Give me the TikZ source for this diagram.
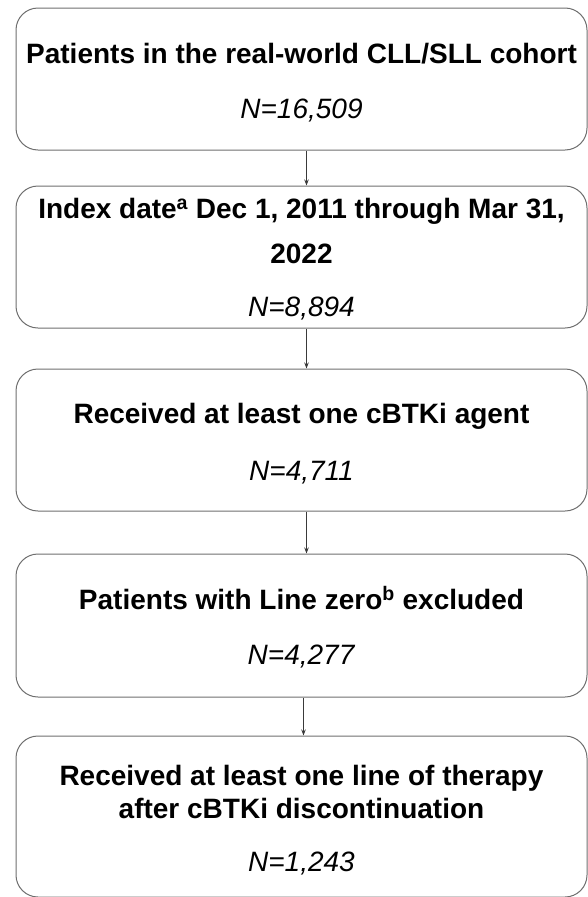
\documentclass[tikz,border=0pt]{standalone}
\usepackage{fontspec}
\setmainfont{Liberation Sans}
\usetikzlibrary{arrows.meta}
\tikzset{
  flowbox/.style={draw=boxgray, line width=1pt, rounded corners=22pt,
    minimum width=571pt, align=center, inner sep=0pt,
    font=\fontsize{28}{33}\selectfont},
  flowarrow/.style={draw=arrowgray, line width=0.9pt,
    -{Stealth[length=6pt,width=4.5pt]}}
}
\definecolor{boxgray}{HTML}{6E6E6E}
\definecolor{arrowgray}{HTML}{3A3A3A}
\newcommand{\cnt}[1]{\textit{#1}}
\newcommand{\topstrut}{\rule{0pt}{27pt}}
\begin{document}
\begin{tikzpicture}[x=1pt,y=-1pt]
\useasboundingbox (0,0) rectangle (588,897);
\node[flowbox, minimum height=142pt] (b1) at (301.5,79)
  {\topstrut\textbf{Patients in the real-world CLL/SLL cohort}\\[22pt]\cnt{N=16,509}};
\node[flowbox, minimum height=142pt] (b2) at (301.5,257)
  {\rule{0pt}{24pt}\textbf{Index date\textsuperscript{a} Dec 1, 2011 through Mar 31,}\\[12pt]\textbf{2022}\\[20pt]\cnt{N=8,894}};
\node[flowbox, minimum height=142pt] (b3) at (301.5,440)
  {\topstrut\textbf{Received at least one cBTKi agent}\\[24pt]\cnt{N=4,711}};
\node[flowbox, minimum height=143pt] (b4) at (301.5,625.5)
  {\topstrut\textbf{Patients with Line zero\textsuperscript{b} excluded}\\[22pt]\cnt{N=4,277}};
\node[flowbox, minimum height=161pt] (b5) at (301.5,816.5)
  {\rule{0pt}{28pt}\textbf{Received at least one line of therapy}\\\textbf{after cBTKi discontinuation}\\[20pt]\cnt{N=1,243}};
\draw[flowarrow] ([xshift=5pt]b1.south) -- ([xshift=5pt]b2.north);
\draw[flowarrow] ([xshift=5pt]b2.south) -- ([xshift=5pt]b3.north);
\draw[flowarrow] ([xshift=5pt]b3.south) -- ([xshift=5pt]b4.north);
\draw[flowarrow] ([xshift=2pt]b4.south) -- ([xshift=2pt]b5.north);
\end{tikzpicture}
\end{document}
